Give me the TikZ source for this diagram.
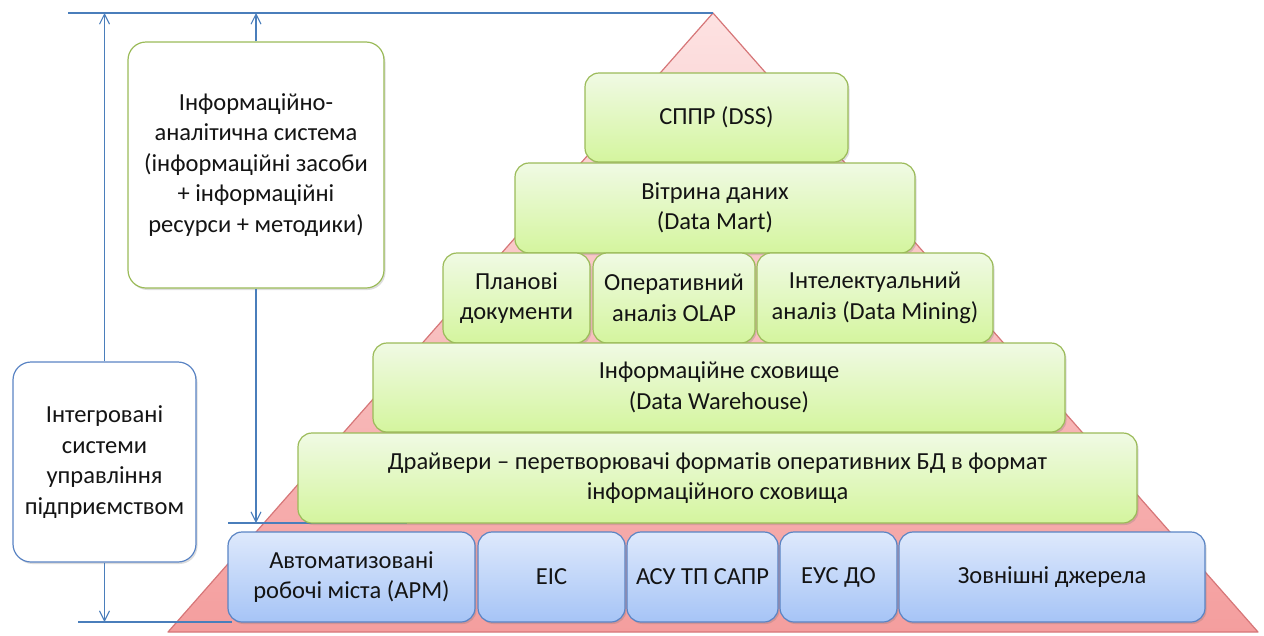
\documentclass[tikz,border=0pt]{standalone}
\usepackage{fontspec}
\setmainfont{Carlito}
\usetikzlibrary{arrows.meta,shadows}

\definecolor{txt}{RGB}{20,20,20}
\definecolor{gtop}{RGB}{240,250,228}
\definecolor{gbot}{RGB}{212,245,158}
\definecolor{gline}{RGB}{155,187,89}
\definecolor{btop}{RGB}{222,233,252}
\definecolor{bbot}{RGB}{166,196,246}
\definecolor{bline}{RGB}{90,132,196}
\definecolor{ptop}{RGB}{253,226,226}
\definecolor{pbot}{RGB}{244,158,158}
\definecolor{pline}{RGB}{214,118,120}
\definecolor{dim}{RGB}{74,126,187}

\tikzset{
  every node/.style={font=\fontsize{24.5}{30.5}\selectfont, text=txt, align=center, inner sep=2pt},
  soft/.style={drop shadow={shadow xshift=1.5pt, shadow yshift=-2pt, opacity=0.22, fill=black!60}},
  gbox/.style={rounded corners=14pt, draw=gline, line width=1.2pt, top color=gtop, bottom color=gbot, soft},
  bbox/.style={rounded corners=14pt, draw=bline, line width=1.2pt, top color=btop, bottom color=bbot, soft},
  wgbox/.style={rounded corners=18pt, draw=gline, line width=1.2pt, fill=white, soft},
  wbbox/.style={rounded corners=18pt, draw=bline, line width=1.2pt, fill=white, soft},
  dimline/.style={draw=dim, line width=1.1pt},
  dimarrow/.style={dimline, -{Straight Barb[length=10pt,width=10pt]}},
}

\begin{document}
\begin{tikzpicture}[x=1pt,y=-1pt]
\useasboundingbox (0,0) rectangle (1264,635);

% pyramid background
\coordinate (apex) at (713,13);
\coordinate (baseL) at (168,632);
\coordinate (baseR) at (1258,632);
\path[top color=ptop, bottom color=pbot, draw=pline, line width=1.2pt, line join=round]
  (apex) -- (baseR) -- (baseL) -- cycle;

% dimension lines
\coordinate (topL) at (68,13);
\coordinate (botL) at (78,622);
\coordinate (botR) at (232,622);
\coordinate (midL) at (228,523);
\coordinate (midR) at (407,523);
\draw[dimline] (topL) -- (apex);
\draw[dimline] (botL) -- (botR);
\draw[dimline] (midL) -- (midR);

% side boxes
\node[wgbox, minimum width=256pt, minimum height=246pt] (ias) at (256,165)
  {Інформаційно-\\аналітична система\\(інформаційні засоби\\+ інформаційні\\ресурси + методики)};
\node[wbbox, minimum width=183pt, minimum height=200pt] (isu) at (104.5,462)
  {Інтегровані\\системи\\управління\\підприємством};

\draw[dimarrow] (ias.north) -- (ias.north |- topL);
\draw[dimarrow] (ias.south) -- (ias.south |- midL);
\draw[dimarrow] (isu.north) -- (isu.north |- topL);
\draw[dimarrow] (isu.south) -- (isu.south |- botL);

% pyramid levels
\node[gbox, minimum width=263pt, minimum height=89pt] (dss) at (716.5,117.5) {СППР (DSS)};
\node[gbox, minimum width=400pt, minimum height=90pt] (mart) at (715,208) {Вітрина даних\\(Data Mart)};
\node[gbox, minimum width=147pt, minimum height=90pt] (plan) at (516.5,298) {Планові\\документи};
\node[gbox, minimum width=162pt, minimum height=90pt] (olap) at (674,298) {Оперативний\\аналіз OLAP};
\node[gbox, minimum width=236pt, minimum height=90pt] (mine) at (875,298) {Інтелектуальний\\аналіз (Data Mining)};
\node[gbox, minimum width=692pt, minimum height=89pt] (dw) at (719,387.5) {Інформаційне сховище\\(Data Warehouse)};
\node[gbox, minimum width=839pt, minimum height=90pt] (drv) at (717.5,478)
  {Драйвери – перетворювачі форматів оперативних БД в формат\\інформаційного сховища};

% data sources
\node[bbox, minimum width=247pt, minimum height=90pt] (arm) at (351.5,577) {Автоматизовані\\робочі міста (АРМ)};
\node[bbox, minimum width=147pt, minimum height=90pt] (eis) at (551.5,577) {ЕІС};
\node[bbox, minimum width=151pt, minimum height=90pt] (asu) at (702.5,577) {АСУ ТП САПР};
\node[bbox, minimum width=117pt, minimum height=90pt] (eus) at (838.5,577) {ЕУС ДО};
\node[bbox, minimum width=306pt, minimum height=90pt] (ext) at (1052,577) {Зовнішні джерела};
\end{tikzpicture}
\end{document}
